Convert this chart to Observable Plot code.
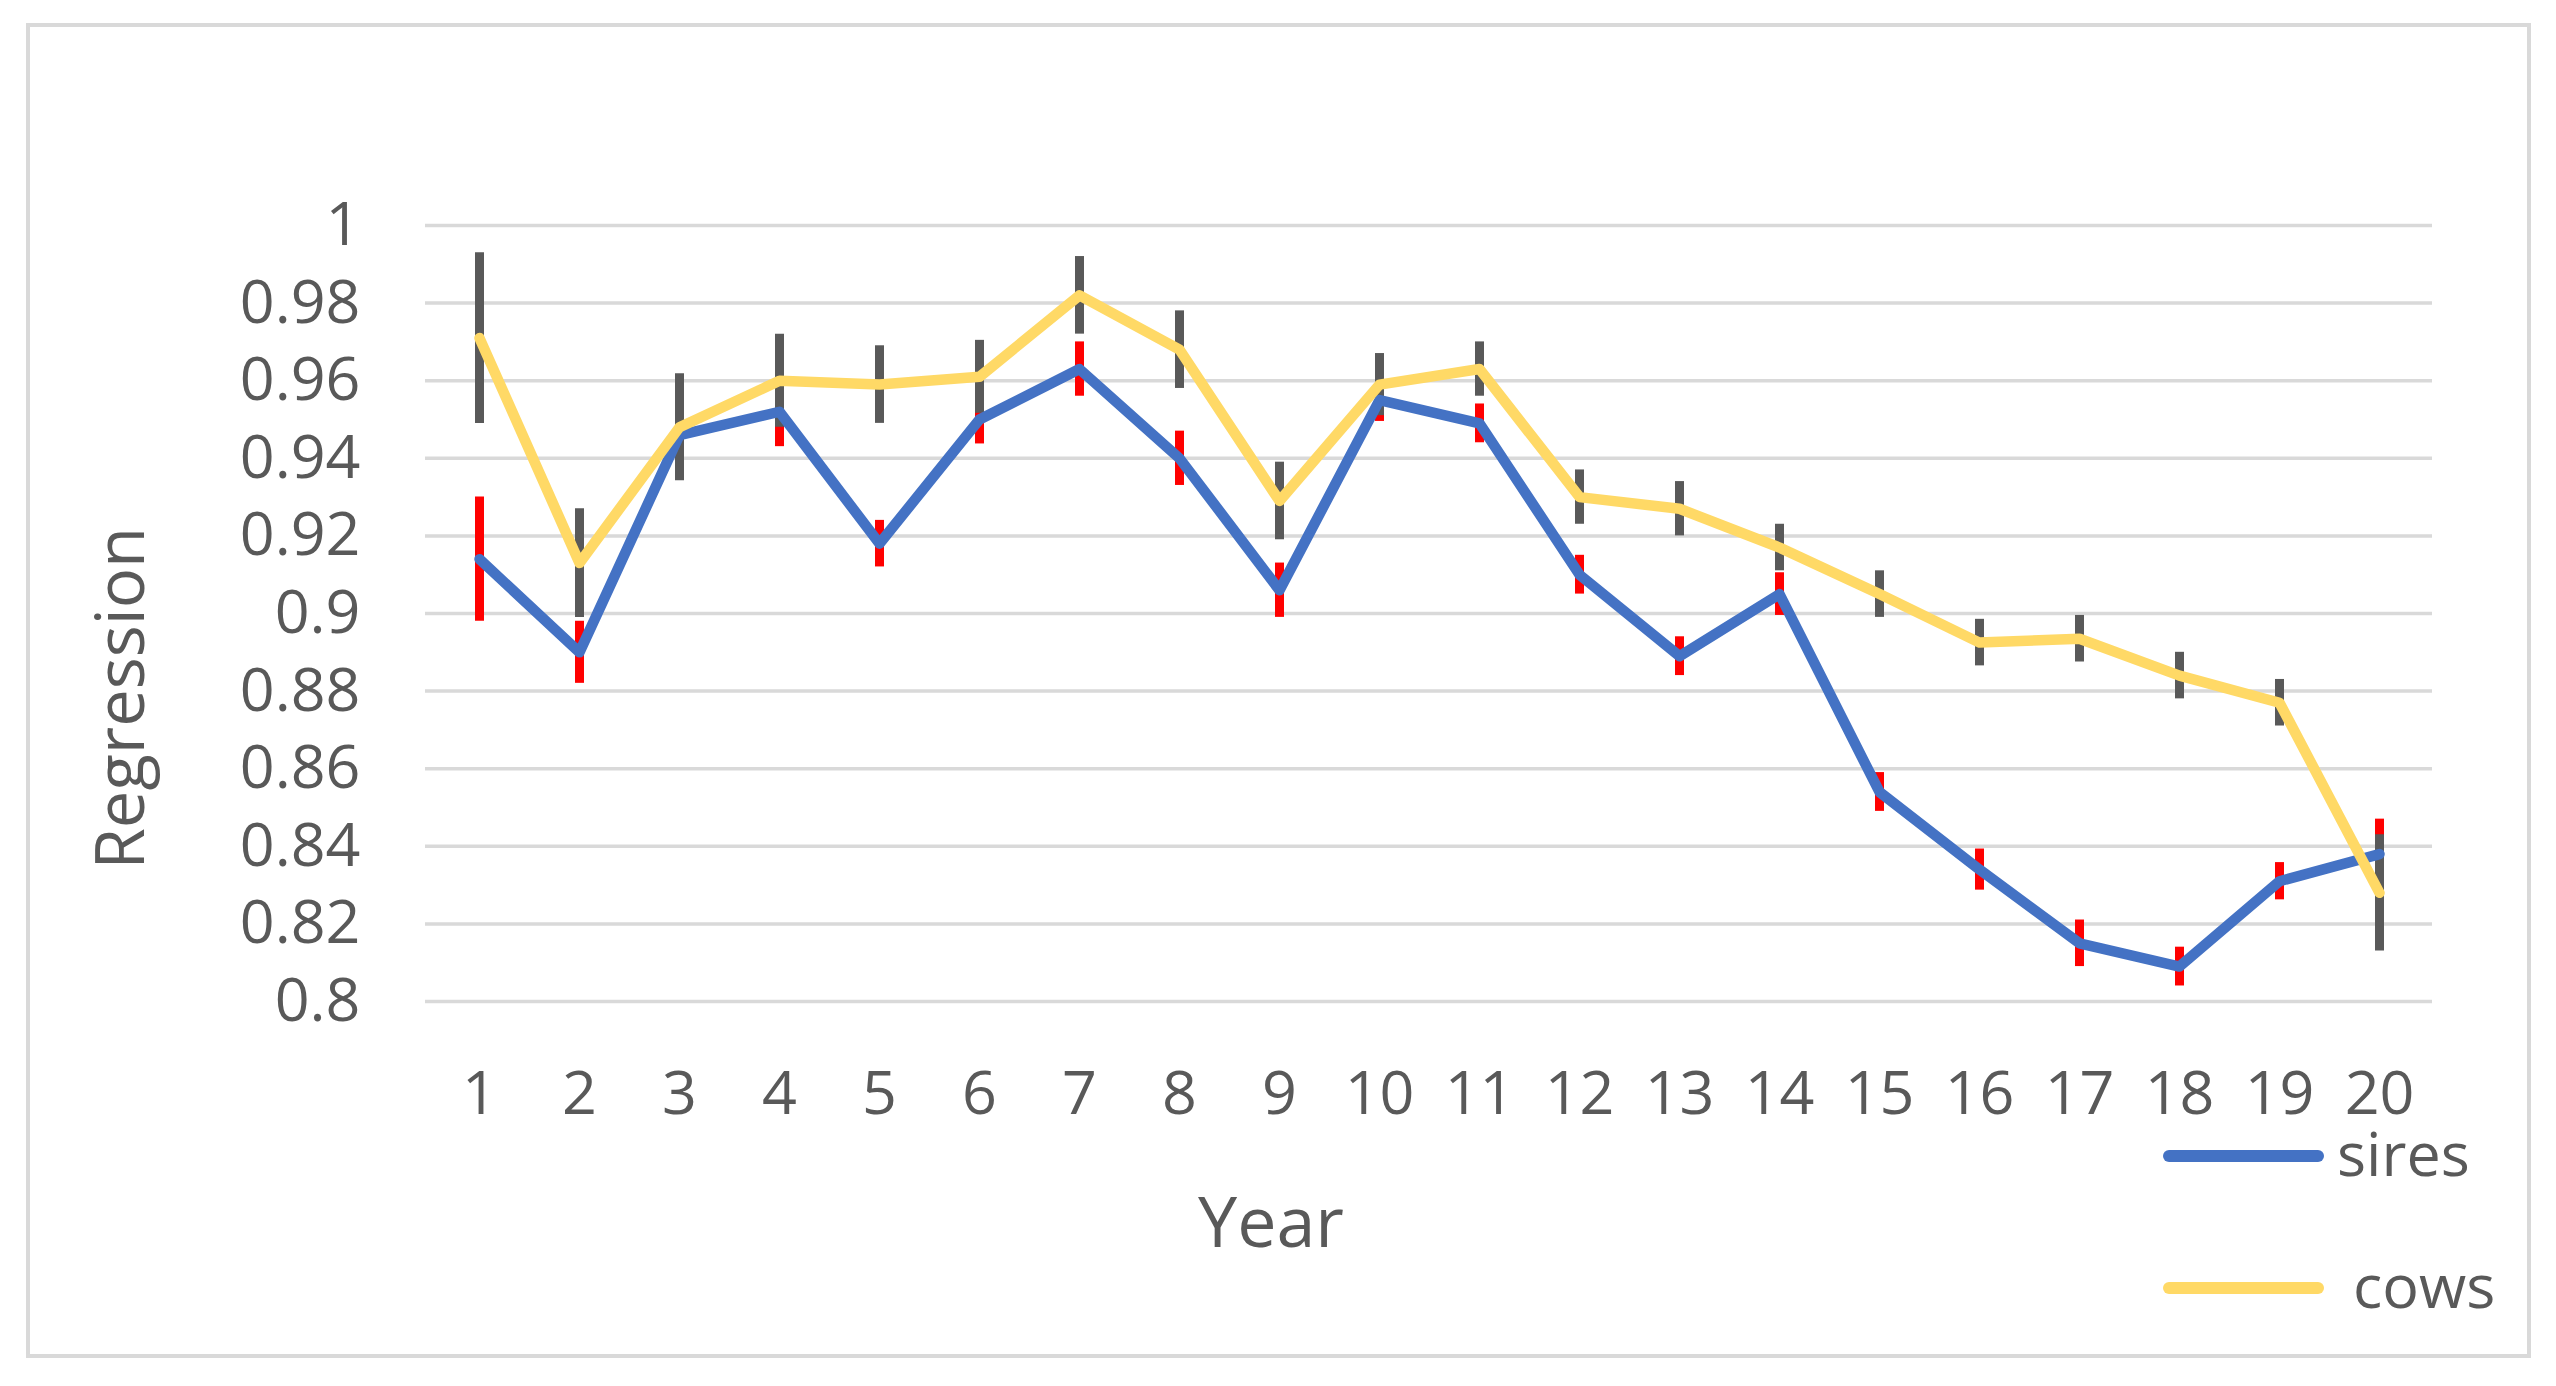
<!DOCTYPE html>
<html>
<head>
<meta charset="utf-8">
<script src="https://cdn.jsdelivr.net/npm/d3@7"></script>
<script src="https://cdn.jsdelivr.net/npm/@observablehq/plot@0.6"></script>
<style>
  html, body { margin: 0; padding: 0; background: #fff; }
  #chart { width: 2556px; height: 1386px; }
</style>
</head>
<body>
<div id="chart"></div>
<script>
const years = [1, 2, 3, 4, 5, 6, 7, 8, 9, 10, 11, 12, 13, 14, 15, 16, 17, 18, 19, 20];
const siresValues = [0.914, 0.890, 0.946, 0.952, 0.918, 0.950, 0.963, 0.940, 0.906, 0.955, 0.949, 0.910, 0.889, 0.905, 0.854, 0.834, 0.815, 0.809, 0.831, 0.838];
const siresErr    = [0.016, 0.008, 0.0095, 0.009, 0.006, 0.0063, 0.007, 0.007, 0.007, 0.0055, 0.005, 0.005, 0.005, 0.0055, 0.005, 0.0053, 0.006, 0.005, 0.0048, 0.009];
const cowsValues  = [0.971, 0.913, 0.948, 0.960, 0.959, 0.961, 0.982, 0.968, 0.929, 0.959, 0.963, 0.930, 0.927, 0.917, 0.905, 0.8925, 0.8935, 0.884, 0.877, 0.828];
const cowsErr     = [0.022, 0.014, 0.0138, 0.012, 0.010, 0.0094, 0.010, 0.010, 0.010, 0.008, 0.007, 0.007, 0.007, 0.006, 0.006, 0.006, 0.006, 0.006, 0.006, 0.015];
const yTicks = [0.8, 0.82, 0.84, 0.86, 0.88, 0.9, 0.92, 0.94, 0.96, 0.98, 1];
const seriesNames = ["sires", "cows"];
const seriesColors = ["#4472C4", "#FFD966"];
const errColors = ["#FF0000", "#595959"];

const sires = years.map((year, i) => ({year, value: siresValues[i], err: siresErr[i]}));
const cows = years.map((year, i) => ({year, value: cowsValues[i], err: cowsErr[i]}));

const textColor = "#595959";
const font = "'Open Sans', sans-serif";

const plot = Plot.plot({
  width: 2556,
  height: 1386,
  marginLeft: 425,
  marginRight: 124,
  marginTop: 225,
  marginBottom: 385,
  style: {fontFamily: font, background: "white", color: textColor, overflow: "visible"},
  x: {type: "point", domain: years, padding: 0.5},
  y: {domain: [0.8, 1.0]},
  marks: [
    Plot.frame({stroke: "#D9D9D9", strokeWidth: 4, insetLeft: -397.5, insetTop: -200.5, insetRight: -96.5, insetBottom: -354.5}),
    Plot.ruleY(yTicks, {stroke: "#D9D9D9", strokeWidth: 3.5}),
    Plot.axisY({ticks: yTicks, tickSize: 0, tickPadding: 65, label: null,
      tickFormat: d => String(+d.toFixed(2)), fontSize: 61, fill: textColor}),
    Plot.axisX({tickSize: 0, tickPadding: 69, label: null, fontSize: 61, fill: textColor}),
    Plot.ruleX(sires, {x: "year", y1: d => d.value - d.err, y2: d => d.value + d.err, stroke: errColors[0], strokeWidth: 9}),
    Plot.ruleX(cows, {x: "year", y1: d => d.value - d.err, y2: d => d.value + d.err, stroke: errColors[1], strokeWidth: 9}),
    Plot.line(sires, {x: "year", y: "value", stroke: seriesColors[0], strokeWidth: 10.5, strokeLinejoin: "round", strokeLinecap: "round"}),
    Plot.line(cows, {x: "year", y: "value", stroke: seriesColors[1], strokeWidth: 10.5, strokeLinejoin: "round", strokeLinecap: "round"}),
    Plot.text(["Year"], {text: d => d, frameAnchor: "bottom", dx: -158, dy: 245, fontSize: 70, fill: textColor}),
    Plot.text(["Regression"], {text: d => d, frameAnchor: "left", dx: -303, dy: 256, rotate: -90, fontSize: 67, fill: textColor})
  ]
});

document.getElementById("chart").appendChild(plot);

// Legend (below-right of the plot area)
const svg = d3.select(plot);
const legendRows = [
  {name: seriesNames[0], color: seriesColors[0], y: 1156, tx: 2337},
  {name: seriesNames[1], color: seriesColors[1], y: 1288, tx: 2353}
];
const lg = svg.append("g").attr("text-anchor", "start");
legendRows.forEach(r => {
  lg.append("line").attr("x1", 2169).attr("x2", 2318).attr("y1", r.y).attr("y2", r.y)
    .attr("stroke", r.color).attr("stroke-width", 12).attr("stroke-linecap", "round");
  lg.append("text").attr("x", r.tx).attr("y", r.y + 20).attr("fill", textColor)
    .attr("text-anchor", "start").attr("font-family", font).attr("font-size", 61).text(r.name);
});
</script>
</body>
</html>
